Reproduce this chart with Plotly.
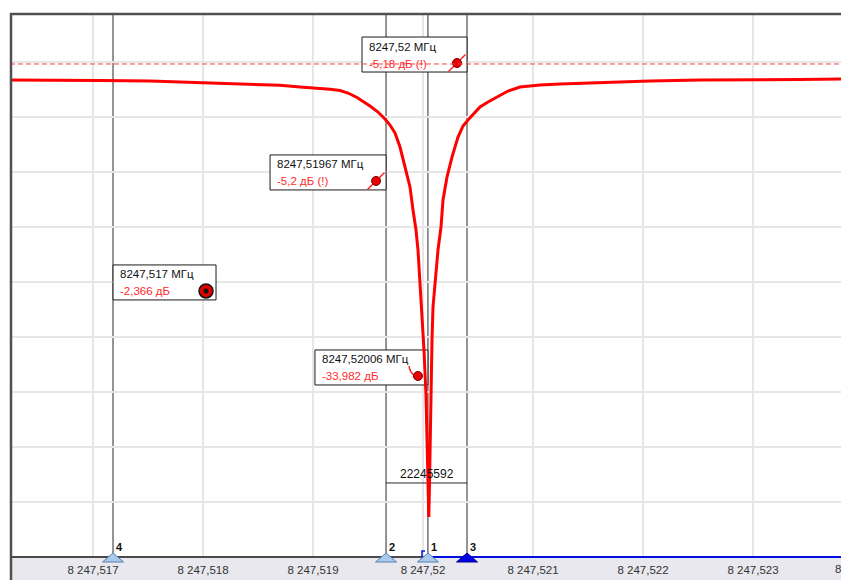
import plotly.graph_objects as go

# ---------------- data ----------------
freq_mhz = [
    8247.5162455, 8247.5166091, 8247.5170636, 8247.5175182, 8247.5179727,
    8247.5184273, 8247.5187000, 8247.5188818, 8247.5190636, 8247.5191545,
    8247.5192455, 8247.5193182, 8247.5194000, 8247.5194636, 8247.5195182,
    8247.5195909, 8247.5196545, 8247.5197000, 8247.5197455, 8247.5197909,
    8247.5198364, 8247.5198818, 8247.5199091, 8247.5199364, 8247.5199545,
    8247.5199727, 8247.5199909, 8247.5200000, 8247.5200091, 8247.5200182,
    8247.5200273, 8247.5200345, 8247.5200409, 8247.5200473, 8247.5200527,
    8247.5200582, 8247.5200618, 8247.5200664, 8247.5200709, 8247.5200773,
    8247.5200818, 8247.5200909, 8247.5201182, 8247.5201364, 8247.5201636,
    8247.5201818, 8247.5202182, 8247.5202636, 8247.5203182, 8247.5203636,
    8247.5204091, 8247.5204636, 8247.5205182, 8247.5205909, 8247.5206727,
    8247.5207727, 8247.5208818, 8247.5210636, 8247.5212455, 8247.5216091,
    8247.5220636, 8247.5225182, 8247.5229727, 8247.5234273, 8247.5238727,
]
level_db = [
    -6.64, -6.64, -6.68, -6.73, -6.88,
    -7.00, -7.12, -7.27, -7.38, -7.47,
    -7.59, -7.82, -8.23, -8.64, -9.00,
    -9.55, -10.18, -10.73, -11.45, -12.73,
    -14.55, -16.36, -18.45, -20.27, -22.09,
    -24.82, -27.55, -29.36, -31.18, -33.27,
    -35.27, -38.45, -41.64, -44.82, -46.36,
    -43.91, -41.18, -38.45, -35.73, -33.00,
    -30.27, -27.27, -23.91, -22.09, -20.00,
    -17.55, -15.45, -13.64, -11.82, -10.82,
    -10.27, -9.64, -9.09, -8.64, -8.18,
    -7.64, -7.27, -7.09, -7.00, -6.86,
    -6.73, -6.64, -6.64, -6.59, -6.55,
]

tick_vals = [8247.517, 8247.518, 8247.519, 8247.520, 8247.521, 8247.522, 8247.523]
tick_text = ["8 247,517", "8 247,518", "8 247,519", "8 247,52",
             "8 247,521", "8 247,522", "8 247,523"]
offscreen_tick_text = "8 247,524"
grid_db = [-45, -40, -35, -30, -25, -20, -15, -10, -5]

marker_ids = ["4", "2", "1", "3"]
marker_freq = [8247.517182, 8247.519664, 8247.520045, 8247.520400]
marker_active = [False, False, False, True]
readout_freq_text = ["8247,517 МГц", "8247,51967 МГц", "8247,52006 МГц", "8247,52 МГц"]
readout_level_text = ["-2,366 дБ", "-5,2 дБ (!)", "-33,982 дБ", "-5,18 дБ (!)"]
readout_top_db = [-23.45, -13.45, -31.18, -2.73]
readout_width_px = [103, 116, 113, 105]
readout_side = ["left", "right", "right", "right"]
readout_dot = ["big", "arrow", "tail", "arrow"]

ref_level_db = -5.18
span_start_mhz = 8247.52
bandwidth_text = "22245592"
bandwidth_line_db = -43.27
bandwidth_text_db = -42.45

# ---------------- layout geometry ----------------
# the page body adds an 8 px margin, so the figure is 8 px smaller / shifted
W, H = 841, 572
ML, MR, MT, MB = 2, 0, 5, 23
PW, PH = W - ML - MR, H - MT - MB
X_RANGE = [8247.5162455, 8247.5238727]
Y_RANGE = [-50.0, -0.545]
MHZ_PX = (X_RANGE[1] - X_RANGE[0]) / PW
DB_PX = (Y_RANGE[1] - Y_RANGE[0]) / PH
FONT = "Liberation Sans, Arial, sans-serif"
RED = "#ff0000"

fig = go.Figure()
shapes = []
annotations = []

# grey band under the axis
shapes.append(dict(type="rect", xref="paper", yref="paper", x0=0, x1=1,
                   y0=-MB / PH, y1=0, fillcolor="#e8e8ee", line=dict(width=0),
                   layer="below"))

# marker vertical lines
for f in marker_freq:
    shapes.append(dict(type="line", xref="x", yref="paper", x0=f, x1=f, y0=0, y1=1,
                       line=dict(color="#2a2a2a", width=1), layer="between"))

# bandwidth line between markers 2 and 3
shapes.append(dict(type="line", xref="x", yref="y", x0=marker_freq[1], x1=marker_freq[3],
                   y0=bandwidth_line_db, y1=bandwidth_line_db,
                   line=dict(color="#2a2a2a", width=1), layer="between"))

# readout boxes
dot_x, dot_y = [], []
for i, f in enumerate(marker_freq):
    w = readout_width_px[i] * MHZ_PX
    if readout_side[i] == "left":
        x0, x1 = f, f + w
    else:
        x0, x1 = f - w, f
    top = readout_top_db[i]
    bot = top - 35 * DB_PX
    shapes.append(dict(type="rect", xref="x", yref="y", x0=x0, x1=x1, y0=bot, y1=top,
                       fillcolor="white", line=dict(color="#1a1a1a", width=1),
                       layer="between"))
    annotations.append(dict(xref="x", yref="y", x=x0 + 5 * MHZ_PX, y=top - 9.5 * DB_PX,
                            xanchor="left", yanchor="middle", showarrow=False,
                            text=readout_freq_text[i],
                            font=dict(family=FONT, size=11.5, color="#111111")))
    annotations.append(dict(xref="x", yref="y", x=x0 + 5 * MHZ_PX, y=top - 26.5 * DB_PX,
                            xanchor="left", yanchor="middle", showarrow=False,
                            text=readout_level_text[i],
                            font=dict(family=FONT, size=11.5, color="#ff2a2a")))
    dot_x.append(x1 - 10 * MHZ_PX)
    dot_y.append(top - 26 * DB_PX)

# reference dashed line
shapes.append(dict(type="line", xref="paper", yref="y", x0=0, x1=1,
                   y0=ref_level_db, y1=ref_level_db,
                   line=dict(color="#ff4040", width=1, dash="5px,3px"), layer="above"))

# borders and axis line
shapes.append(dict(type="line", xref="paper", yref="paper", x0=1 / PW, x1=1 / PW,
                   y0=-MB / PH, y1=1, line=dict(color="#505050", width=2.5), layer="above"))
shapes.append(dict(type="line", xref="paper", yref="paper", x0=0, x1=1,
                   y0=1 - 1 / PH, y1=1 - 1 / PH, line=dict(color="#505050", width=2.5),
                   layer="above"))
shapes.append(dict(type="line", xref="paper", yref="paper", x0=0,
                   x1=(span_start_mhz - X_RANGE[0]) / (X_RANGE[1] - X_RANGE[0]),
                   y0=0, y1=0, line=dict(color="#4a4a4a", width=2), layer="above"))
shapes.append(dict(type="line", xref="x", yref="paper", x0=span_start_mhz, x1=X_RANGE[1],
                   y0=0, y1=0, line=dict(color="#0010e0", width=2.2), layer="above"))
# small blue bracket at the span start
bx = span_start_mhz - 1 * MHZ_PX
shapes.append(dict(type="path", xref="x", yref="paper",
                   path=f"M {bx + 3 * MHZ_PX},{6 / PH} L {bx},{6 / PH} L {bx},0",
                   line=dict(color="#0010e0", width=1.5), layer="above"))

# marker triangles and numbers
for i, f in enumerate(marker_freq):
    hw = 10.5 * MHZ_PX
    path = f"M {f - hw},{-5 / PH} L {f + hw},{-5 / PH} L {f},{4 / PH} Z"
    if marker_active[i]:
        fill, edge = "#0000e8", "#000080"
    else:
        fill, edge = "#a9c9ee", "#5a7fa8"
    shapes.append(dict(type="path", xref="x", yref="paper", path=path,
                       fillcolor=fill, line=dict(color=edge, width=1), layer="above"))
    annotations.append(dict(xref="x", yref="paper", x=f, xshift=1, xanchor="left",
                            y=10 / PH, yanchor="middle", showarrow=False,
                            text=f"<b>{marker_ids[i]}</b>",
                            font=dict(family=FONT, size=11, color="#111111")))

# bandwidth value
annotations.append(dict(xref="x", yref="y", x=(marker_freq[1] + marker_freq[3]) / 2,
                        y=bandwidth_text_db, xanchor="center", yanchor="middle",
                        showarrow=False, text=bandwidth_text,
                        font=dict(family=FONT, size=12, color="#111111")))

# tick label cut off at the right edge
annotations.append(dict(xref="paper", yref="paper", x=1 + 12 / PW, y=-12 / PH,
                        xanchor="center", yanchor="middle", showarrow=False,
                        text=offscreen_tick_text,
                        font=dict(family=FONT, size=11.5, color="#333333")))

# ---------------- traces ----------------
fig.add_trace(go.Scatter(x=freq_mhz, y=level_db, mode="lines",
                         line=dict(color=RED, width=3), hoverinfo="skip",
                         showlegend=False))

for i in range(len(marker_freq)):
    kind = readout_dot[i]
    if kind == "arrow":
        fig.add_trace(go.Scatter(x=[dot_x[i]], y=[dot_y[i]], mode="markers",
                                 marker=dict(symbol="line-ne", size=17,
                                             line=dict(color="#ff2020", width=1.5)),
                                 hoverinfo="skip", showlegend=False, cliponaxis=False))
        fig.add_trace(go.Scatter(x=[dot_x[i]], y=[dot_y[i]], mode="markers",
                                 marker=dict(symbol="circle", size=9, color="#e80000",
                                             line=dict(color="#700000", width=1)),
                                 hoverinfo="skip", showlegend=False))
    elif kind == "big":
        fig.add_trace(go.Scatter(x=[dot_x[i]], y=[dot_y[i]], mode="markers",
                                 marker=dict(symbol="circle", size=14, color="#e00000",
                                             line=dict(color="#111111", width=1.5)),
                                 hoverinfo="skip", showlegend=False))
        fig.add_trace(go.Scatter(x=[dot_x[i]], y=[dot_y[i]], mode="markers",
                                 marker=dict(symbol="circle", size=5, color="#111111"),
                                 hoverinfo="skip", showlegend=False))
    else:
        fig.add_trace(go.Scatter(
            x=[dot_x[i] - 9 * MHZ_PX, dot_x[i] - 7 * MHZ_PX, dot_x[i] - 3 * MHZ_PX],
            y=[dot_y[i] + 10 * DB_PX, dot_y[i] + 4 * DB_PX, dot_y[i]],
            mode="lines", line=dict(color="#ff2020", width=1.5, shape="spline"),
            hoverinfo="skip", showlegend=False))
        fig.add_trace(go.Scatter(x=[dot_x[i]], y=[dot_y[i]], mode="markers",
                                 marker=dict(symbol="circle", size=9, color="#e80000",
                                             line=dict(color="#700000", width=1)),
                                 hoverinfo="skip", showlegend=False))

fig.update_layout(
    width=W, height=H,
    margin=dict(l=ML, r=MR, t=MT, b=MB, pad=0),
    paper_bgcolor="white", plot_bgcolor="white",
    showlegend=False,
    shapes=shapes, annotations=annotations,
    xaxis=dict(range=X_RANGE, tickmode="array", tickvals=tick_vals, ticktext=tick_text,
               showgrid=True, gridcolor="#e6e6e6", gridwidth=2, zeroline=False,
               showline=False, ticks="outside", ticklen=2, tickcolor="rgba(0,0,0,0)",
               tickfont=dict(family=FONT, size=11.5, color="#333333"), fixedrange=True),
    yaxis=dict(range=Y_RANGE, tickmode="array", tickvals=grid_db, showticklabels=False,
               showgrid=True, gridcolor="#e6e6e6", gridwidth=2, zeroline=False,
               showline=False, ticks="", fixedrange=True),
)

fig.write_html("out.html")
